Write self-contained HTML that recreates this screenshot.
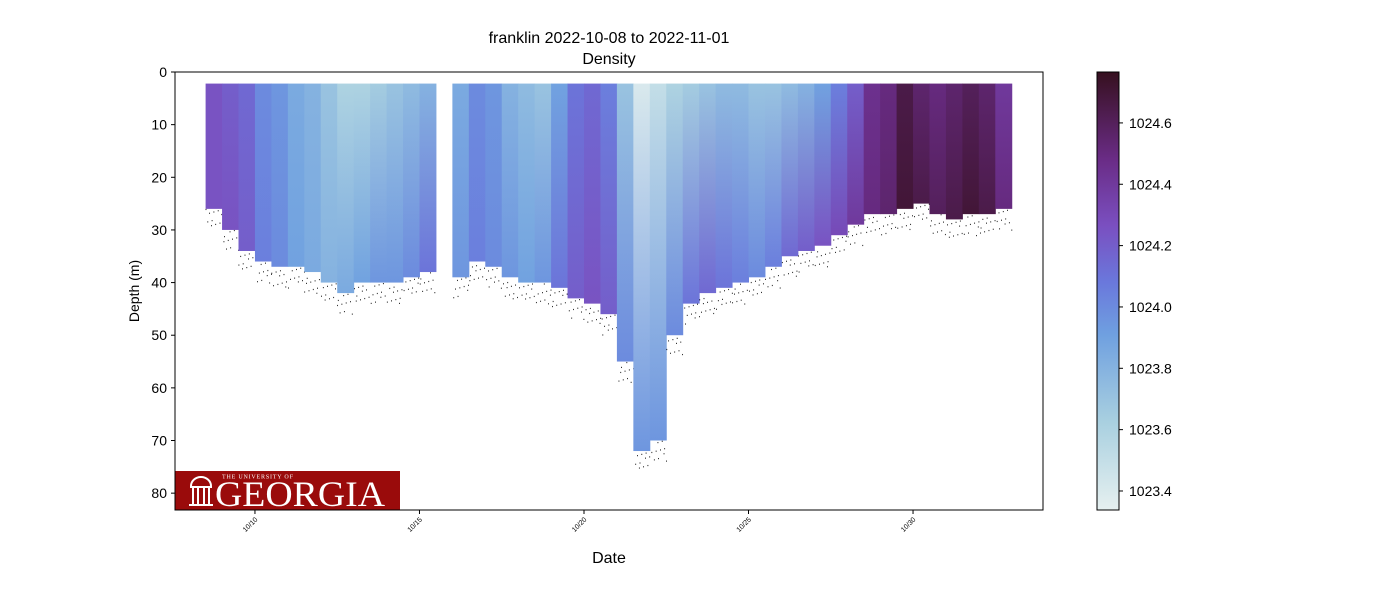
<!DOCTYPE html>
<html><head><meta charset="utf-8">
<style>
body{margin:0;background:#fff;width:1400px;height:600px;overflow:hidden;font-family:"Liberation Sans",sans-serif;}
svg{display:block}
</style></head>
<body>
<svg id="chart" width="1400" height="600">
<defs>
<linearGradient id="cbar" x1="0" y1="1" x2="0" y2="0">
<stop offset="0" stop-color="#e6f0f0"/><stop offset="0.2" stop-color="#a9d0e0"/>
<stop offset="0.4" stop-color="#6fa0e0"/><stop offset="0.52" stop-color="#6a78dc"/>
<stop offset="0.65" stop-color="#7a4fc0"/><stop offset="0.8" stop-color="#6a2c86"/>
<stop offset="1" stop-color="#36101f"/></linearGradient>
<clipPath id="plotclip"><rect x="175" y="72" width="868" height="438"/></clipPath>
</defs>
<text x="609" y="43" text-anchor="middle" font-size="16">franklin 2022-10-08 to 2022-11-01</text>
<text x="609" y="64" text-anchor="middle" font-size="16">Density</text>
<g id="marks" clip-path="url(#plotclip)"></g>
<g>
<rect x="175" y="471" width="225" height="39" fill="#9a0b0b"/>
<text x="222" y="478.5" font-family="Liberation Serif,serif" font-size="6" fill="#fff" letter-spacing="0.8">THE UNIVERSITY OF</text>
<text x="215" y="506" font-family="Liberation Serif,serif" font-size="36" fill="#fff" textLength="170" lengthAdjust="spacingAndGlyphs">GEORGIA</text>
<path d="M191 486 A10 9 0 0 1 211 486 M190 487h22 M193 488v16 M198 488v16 M204 488v16 M209 488v16 M189 505h24" stroke="#fff" stroke-width="2" fill="none"/>
</g>
<rect x="175" y="72" width="868" height="438" fill="none" stroke="#000" stroke-width="1"/>
<g id="yaxis"></g>
<g id="xaxis"></g>
<text x="609" y="563" text-anchor="middle" font-size="16">Date</text>
<text transform="translate(139,291) rotate(-90)" text-anchor="middle" font-size="14">Depth (m)</text>
<rect x="1097" y="72" width="22" height="438" fill="url(#cbar)" stroke="#000" stroke-width="1"/>
<g id="cbaxis"></g>
</svg>
<script>
const days=[8.75,9.25,9.75,10.25,10.75,11.25,11.75,12.25,12.75,13.25,13.75,14.25,14.75,15.25,15.75,16.25,16.75,17.25,17.75,18.25,18.75,19.25,19.75,20.25,20.75,21.25,21.75,22.25,22.75,23.25,23.75,24.25,24.75,25.25,25.75,26.25,26.75,27.25,27.75,28.25,28.75,29.25,29.75,30.25,30.75,31.25,31.75,32.25,32.75];
const bottomDepth=[26,30,34,36,37,37,38,40,42,40,40,40,39,38,0,39,36,37,39,40,40,41,43,44,46,55,72,70,50,44,42,41,40,39,37,35,34,33,31,29,27,27,26,25,27,28,27,27,26];
const topDensity=[1024.25,1024.2,1024.15,1024.0,1023.95,1023.85,1023.8,1023.7,1023.6,1023.6,1023.65,1023.7,1023.75,1023.8,0,1023.85,1024.0,1023.95,1023.8,1023.75,1023.7,1023.9,1024.1,1024.15,1024.05,1023.7,1023.4,1023.5,1023.6,1023.65,1023.7,1023.75,1023.75,1023.7,1023.7,1023.75,1023.8,1023.9,1024.05,1024.2,1024.45,1024.5,1024.65,1024.55,1024.5,1024.55,1024.6,1024.55,1024.4];
const bottomDensity=[1024.25,1024.25,1024.2,1024.05,1024.0,1023.9,1023.85,1023.8,1023.85,1023.9,1023.95,1023.95,1024.0,1024.1,0,1023.95,1024.05,1024.0,1023.95,1023.9,1023.95,1024.1,1024.2,1024.25,1024.2,1024.0,1023.95,1023.95,1024.0,1024.1,1024.15,1024.1,1024.05,1024.0,1024.05,1024.15,1024.2,1024.25,1024.3,1024.4,1024.5,1024.55,1024.7,1024.65,1024.6,1024.65,1024.7,1024.65,1024.5];
const yTicks=[0,10,20,30,40,50,60,70,80];
const xTickDays=[10,15,20,25,30];
const xTickLabels=["10/10","10/15","10/20","10/25","10/30"];
const cbTicks=[1023.4,1023.6,1023.8,1024.0,1024.2,1024.4,1024.6];

const NS="http://www.w3.org/2000/svg";
const X0=175,X1=1043,Y0=72,Y1=510;
const dMin=7.57,dMax=33.95,zMax=83.2,cMin=1023.338,cMax=1024.766;
const xs=d=>X0+(d-dMin)/(dMax-dMin)*(X1-X0);
const ys=z=>Y0+z/zMax*(Y1-Y0);
const cs=v=>Y1-(v-cMin)/(cMax-cMin)*(Y1-Y0);
const stops=[[0,[230,240,240]],[0.2,[169,208,224]],[0.4,[111,160,224]],[0.52,[106,120,220]],[0.65,[122,79,192]],[0.8,[106,44,134]],[1,[54,16,31]]];
function cmap(v){let t=Math.max(0,Math.min(1,(v-cMin)/(cMax-cMin)));for(let i=1;i<stops.length;i++){if(t<=stops[i][0]){const a=stops[i-1],b=stops[i],f=(t-a[0])/(b[0]-a[0]);return 'rgb('+a[1].map((c,k)=>Math.round(c+(b[1][k]-c)*f)).join(',')+')';}}return 'rgb(54,16,31)';}
function el(tag,attrs,parent){const e=document.createElementNS(NS,tag);for(const k in attrs)e.setAttribute(k,attrs[k]);parent.appendChild(e);return e;}
const marks=document.getElementById('marks');
const step=0.5;
days.forEach((d,i)=>{
 if(!bottomDepth[i])return;
 const x=xs(d-step/2), w=xs(d+step/2)-x;
 const gid='g'+i;
 const defs=document.querySelector('defs');
 const g=el('linearGradient',{id:gid,x1:0,y1:0,x2:0,y2:1},defs);
 el('stop',{offset:0,'stop-color':cmap(topDensity[i])},g);
 el('stop',{offset:1,'stop-color':cmap(bottomDensity[i])},g);
 const r=el('rect',{x:x,y:ys(2.2),width:w+0.5,height:ys(bottomDepth[i])-ys(2.2),fill:'url(#'+gid+')'},marks);
 
 
 for(let k=0;k<10;k++){
  const dx=((k*37+i*13)%100)/100*w, dz=((k*53+i*29)%100)/100*4;
  const p=el('rect',{x:x+dx,y:ys(bottomDepth[i]+dz),width:0.8,height:1.2,fill:'#000'},marks);
  
  
 }
});
const ya=document.getElementById('yaxis');
yTicks.forEach(t=>{const y=ys(t);el('line',{x1:X0-4,x2:X0,y1:y,y2:y,stroke:'#000'},ya);const tx=el('text',{x:X0-8,y:y+5,'text-anchor':'end','font-size':14},ya);tx.textContent=t;});
const xa=document.getElementById('xaxis');
xTickDays.forEach((d,i)=>{const x=xs(d);el('line',{x1:x,x2:x,y1:Y1,y2:Y1+4,stroke:'#000'},xa);const tx=el('text',{transform:`translate(${x+3},${Y1+10}) rotate(-45)`,'text-anchor':'end','font-size':7},xa);tx.textContent=xTickLabels[i];});
const ca=document.getElementById('cbaxis');
cbTicks.forEach(t=>{const y=cs(t);el('line',{x1:1119,x2:1123,y1:y,y2:y,stroke:'#000'},ca);const tx=el('text',{x:1129,y:y+5,'font-size':14},ca);tx.textContent=t.toFixed(1);});
</script>
</body></html>
